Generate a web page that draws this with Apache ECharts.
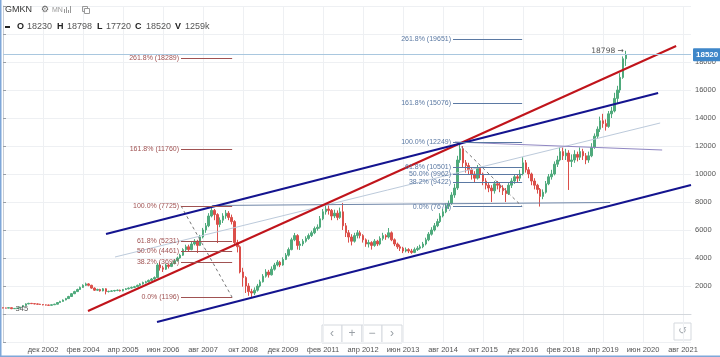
<!DOCTYPE html>
<html><head><meta charset="utf-8">
<script src="https://cdn.jsdelivr.net/npm/echarts@6/dist/echarts.min.js"></script>
<style>html,body{margin:0;padding:0;background:#fff}#c{width:720px;height:357px}</style>
</head><body><div id="c"></div>
<script>
// month index 0 = Oct 2001; tick labels every 14 months starting at index 14 (Dec 2002)
const tickLabels = ['дек 2002','фев 2004','апр 2005','июн 2006','авг 2007','окт 2008','дек 2009','фев 2011','апр 2012','июн 2013','авг 2014','окт 2015','дек 2016','фев 2018','апр 2019','июн 2020','авг 2021'];
const priceTicks = [2000,4000,6000,8000,10000,12000,14000,16000,18000];

const open = [440,430,420,450,380,400,420,500,600,720,
760,740,720,700,680,650,640,620,660,700,
820,900,1000,1100,1250,1450,1600,1750,1900,2050,
2150,2050,1850,1700,1750,1650,1800,1600,1620,1650,
1680,1700,1650,1750,1800,1850,1900,1950,2050,2150,
2250,2300,2400,2500,2600,3500,3300,3200,3500,3400,
3600,3800,4000,4200,4600,4800,4600,5000,5200,4900,
5500,6000,6300,7000,7400,7100,6400,6700,7000,7200,
6900,6600,5100,4800,3000,2600,2000,1600,1500,1700,
2000,2300,2700,3000,2800,3200,3500,3700,3500,3900,
4200,4600,5300,5600,4900,5000,5200,5400,5600,5800,
6100,6200,6800,7300,7500,7400,7000,7200,6900,7300,
6300,5800,5500,5200,5600,5800,5600,5300,5000,5100,
4900,5200,5000,5400,5600,5500,5800,5300,5000,4800,
4700,4500,4600,4500,4400,4600,4700,4800,5000,5300,
5700,6000,6300,6600,7000,7300,7700,7900,8500,9000,
11000,11800,10800,10600,10300,10000,9700,10400,10000,9500,
9200,9000,8800,9300,9200,9000,8800,8600,9200,9500,
9800,9700,10000,10800,10300,10000,9500,9200,8900,8400,
8700,9300,9800,10000,10700,11000,11600,11300,11500,10900,
11000,11400,11200,11600,11300,11000,11300,11900,12700,13200,
13800,13600,13400,14300,14500,15400,16000,16900,18230];
const close = [430,420,450,380,400,420,500,600,720,760,
740,720,700,680,650,640,620,660,700,820,
900,1000,1100,1250,1450,1600,1750,1900,2050,2150,
2050,1850,1700,1750,1650,1800,1600,1620,1650,1680,
1700,1650,1750,1800,1850,1900,1950,2050,2150,2250,
2300,2400,2500,2600,3500,3300,3200,3500,3400,3600,
3800,4000,4200,4600,4800,4600,5000,5200,4900,5500,
6000,6300,7000,7400,7100,6400,6700,7000,7200,6900,
6600,5100,4800,3000,2600,2000,1600,1500,1700,2000,
2300,2700,3000,2800,3200,3500,3700,3500,3900,4200,
4600,5300,5600,4900,5000,5200,5400,5600,5800,6100,
6200,6800,7300,7500,7400,7000,7200,6900,7300,6300,
5800,5500,5200,5600,5800,5600,5300,5000,5100,4900,
5200,5000,5400,5600,5500,5800,5300,5000,4800,4700,
4500,4600,4500,4400,4600,4700,4800,5000,5300,5700,
6000,6300,6600,7000,7300,7700,7900,8500,9000,11000,
11800,10800,10600,10300,10000,9700,10400,10000,9500,9200,
9000,8800,9300,9200,9000,8800,8600,9200,9500,9800,
9700,10000,10800,10300,10000,9500,9200,8900,8400,8700,
9300,9800,10000,10700,11000,11600,11300,11500,10900,11000,
11400,11200,11600,11300,11000,11300,11900,12700,13200,13800,
13600,13400,14300,14500,15400,16000,16900,18230,18520];
const low = [410,400,405,345,360,385,410,490,590,700,
710,690,670,650,620,610,590,600,640,690,
800,880,980,1080,1230,1420,1570,1720,1860,2000,
1980,1800,1650,1640,1600,1620,1400,1540,1580,1600,
1630,1610,1620,1710,1760,1810,1850,1920,2010,2100,
2180,2250,2350,2450,2580,3100,3000,3150,3250,3350,
3550,3750,3950,4150,4500,4450,4550,4900,4360,4850,
5400,5800,6200,6900,6700,5070,6200,6500,6800,6700,
6400,5000,4400,2900,1950,1500,1300,1196,1350,1600,
1900,2250,2600,2600,2750,3100,3400,3350,3450,3850,
4100,4550,5200,4600,4570,4850,5100,5300,5500,5700,
5950,6100,6700,7100,7100,6700,6850,6700,6800,6000,
5500,5100,4900,5100,5400,5400,5100,4800,4750,4600,
4800,4850,4900,5250,5300,5400,5200,4850,4650,4500,
4350,4400,4350,4300,4350,4500,4600,4700,4900,5200,
5600,5900,6200,6500,6900,7200,7500,7800,8300,8860,
10800,10500,10100,10000,9600,9400,9600,9700,9200,8900,
8700,8000,8600,8900,8700,8500,8000,8500,9000,9300,
9400,9500,9900,10100,9700,9200,8900,8600,7674,8200,
8600,9200,9600,9900,10500,10900,11000,11000,8860,10500,
10800,10900,11000,11000,10700,10800,11200,11800,12500,13000,
13300,13100,13300,14000,14400,15000,15800,16800,17720];
const high = [460,450,470,460,420,440,520,630,760,800,
790,770,750,730,700,680,670,690,730,850,
940,1040,1150,1300,1500,1660,1810,1960,2120,2240,
2200,2090,1900,1810,1800,1850,1840,1660,1700,1720,
1750,1740,1790,1850,1900,1960,2010,2100,2200,2310,
2370,2460,2570,2680,3640,3700,3450,3600,3600,3700,
3900,4100,4300,4700,4950,4950,5150,5350,5300,5650,
6150,6500,7200,7725,7500,7200,6900,7200,7430,7350,
7100,6700,5300,4900,3300,2700,2200,1800,1900,2150,
2450,2850,3200,3150,3400,3650,3850,3800,4050,4350,
4750,5450,5790,5700,5200,5350,5550,5750,5950,6250,
6400,7000,7500,7900,7750,7500,7450,7400,7600,7930,
6500,6000,5700,5800,6000,5950,5700,5400,5300,5200,
5350,5300,5550,5800,5700,6140,5900,5400,5100,4950,
4800,4750,4700,4650,4750,4850,4950,5150,5450,5850,
6200,6500,6800,7200,7500,7900,8100,8700,9300,11300,
12249,12000,11000,10800,10500,10200,10640,10500,10100,9700,
9400,9200,9500,9500,9400,9200,9000,9350,9700,10000,
10000,10300,11200,11000,10500,10100,9700,9300,9000,8900,
9500,10000,10300,10900,11300,11900,11900,11800,11700,11400,
11700,11600,11900,11800,11500,11600,12200,12900,13400,14100,
14300,13900,14500,14800,15800,16300,17200,18400,18798];

// drawings, in (month index, price)
const redTrend = [[29.75,214],[235.6,19143]];
const blueTop = [[36.05,5714],[229.3,15786]];
const blueBottom = [[53.9,-571],[240.8,9214]];
const thinTrend = [[39.2,4071],[230,13643]];
const hLine2007 = [[73.2,7750],[212.5,7964]];
const hLine2015 = [[158.2,12286],[230.7,11714]];

const fibNames = ['261.8%','161.8%','100.0%','61.8%','50.0%','38.2%','0.0%'];
const fib1Levels = [18289,11760,7725,5231,4461,3691,1196];
const fib1Span = [62.3,80.2];
const fib1Diag = [[62.3,7725],[80.2,1196]];
const fib2Levels = [19651,15076,12249,10501,9962,9422,7674];
const fib2Span = [157.5,181.7];
const fib2Diag = [[158.9,12249],[181.7,7674]];

const lastIdx = 218, lastHigh = 18798, lastClose = 18520, minIdx = 3, minLow = 345;

const n = Math.min(open.length, close.length, low.length, high.length);
const candles = [];
for (let i = 0; i < n; i++) candles.push([i, open[i], close[i], low[i], high[i]]);

const FONT = 'Liberation Sans, Arial, sans-serif';
const UP = '#4faa7c', DOWN = '#db4f4a';

function trend(data, color, width) {
  return {type:'line', data, symbol:'none', silent:true, clip:true, animation:false,
    lineStyle:{color, width}, z:4};
}
function fib(levels, span, diag, color) {
  return {type:'line', data:diag, symbol:'none', silent:true, animation:false, z:4,
    lineStyle:{color:'#777', width:1, type:[3,3]},
    markLine:{symbol:['none','none'], silent:true, animation:false,
      lineStyle:{color, width:1, type:'solid'},
      label:{show:true, position:'start', distance:2, color, fontSize:7, fontFamily:FONT, formatter:'{b}'},
      data: levels.map((v,k)=>[{coord:[span[0],v], name: fibNames[k]+' ('+v+')'},{coord:[span[1],v]}])
    }};
}

const chart = echarts.init(document.getElementById('c'), null, {renderer:'canvas'});
const option = {
  animation:false,
  backgroundColor:'#fff',
  grid:{left:3, right:29, top:6, bottom:15},
  xAxis:{type:'value', min:0, max:240.8, interval:14,
    axisLine:{show:true, lineStyle:{color:'#d3d7dc'}},
    axisTick:{show:false},
    axisLabel:{color:'#555', fontSize:7.5, fontFamily:FONT, margin:4, showMinLabel:false, showMaxLabel:false,
      formatter:v=>{ const k = v/14 - 1; return (Number.isInteger(k) && k>=0 && k<tickLabels.length) ? tickLabels[k] : ''; }},
    splitLine:{show:true, showMinLine:false, showMaxLine:false, lineStyle:{color:'#eef0f3'}}
  },
  yAxis:{type:'value', position:'right', min:-2000, max:22000, interval:2000, scale:false,
    axisLine:{show:true, lineStyle:{color:'#c9ced6'}},
    axisTick:{show:true, length:3, lineStyle:{color:'#9aa0a8'}},
    axisLabel:{color:'#555', fontSize:7.5, fontFamily:FONT, margin:4,
      formatter:v=> priceTicks.indexOf(v) >= 0 ? String(v) : ''},
    splitLine:{show:true, lineStyle:{color:'#eef0f3'}}
  },
  series:[
    {type:'candlestick', data:candles, encode:{x:0, y:[1,2,3,4]}, barWidth:2, z:3,
      itemStyle:{color:UP, color0:DOWN, borderColor:UP, borderColor0:DOWN, borderWidth:1},
      markLine:{symbol:['none','none'], silent:true, animation:false,
        lineStyle:{color:'#a9c7df', width:1, type:'solid'},
        label:{show:true, position:'end', distance:2, formatter:String(lastClose), color:'#fff',
          backgroundColor:'#3f87c9', padding:[3,3,2,3], fontSize:8, fontWeight:'bold', fontFamily:FONT, borderRadius:1},
        data:[{yAxis:lastClose}]},
      markPoint:{symbol:'circle', symbolSize:0, silent:true, animation:false,
        data:[
          {coord:[lastIdx,lastHigh], label:{show:true, position:'left', distance:2, formatter:lastHigh+' →', color:'#555', fontSize:7.5, fontFamily:'DejaVu Sans, '+FONT}},
          {coord:[minIdx,minLow], label:{show:true, position:'right', distance:4, formatter:String(minLow), color:'#555', fontSize:7.5, fontFamily:FONT}}
        ]}
    },
    trend(thinTrend, '#bccadb', 1),
    trend(hLine2007, '#6f86a8', 1),
    trend(hLine2015, '#8f86c2', 1),
    fib(fib1Levels, fib1Span, fib1Diag, '#a05252'),
    fib(fib2Levels, fib2Span, fib2Diag, '#5b79a3'),
    trend(redTrend, '#c0141b', 2),
    trend(blueTop, '#14148f', 2),
    trend(blueBottom, '#14148f', 2)
  ],
  graphic:[
    {type:'rect', shape:{x:0,y:0,width:1.5,height:357}, style:{fill:'#7fa7d9'}, silent:true, z:100},
    {type:'rect', shape:{x:0,y:355.5,width:720,height:1.5}, style:{fill:'#7fa7d9'}, silent:true, z:100},
    {type:'text', x:5, y:10, style:{text:'GMKN', font:'9px '+FONT, fill:'#333', verticalAlign:'middle', textVerticalAlign:'middle'}, z:100},
    {type:'text', x:41, y:10, style:{text:'⚙', font:'9px DejaVu Sans', fill:'#666', verticalAlign:'middle', textVerticalAlign:'middle'}, z:100},
    {type:'text', x:52, y:10.5, style:{text:'MN', font:'7px '+FONT, fill:'#999', verticalAlign:'middle', textVerticalAlign:'middle'}, z:100},
    {type:'rect', shape:{x:64,y:9,width:1,height:4}, style:{fill:'#999'}, z:100},
    {type:'rect', shape:{x:66,y:7,width:1,height:6}, style:{fill:'#999'}, z:100},
    {type:'rect', shape:{x:68,y:10,width:1,height:3}, style:{fill:'#999'}, z:100},
    {type:'rect', shape:{x:70,y:6,width:1,height:7}, style:{fill:'#999'}, z:100},
    {type:'rect', shape:{x:82.5,y:6.5,width:5,height:5}, style:{fill:'none', stroke:'#999', lineWidth:1}, z:100},
    {type:'rect', shape:{x:84.5,y:8.5,width:5,height:5}, style:{fill:'#fff', stroke:'#999', lineWidth:1}, z:100},
    {type:'rect', shape:{x:5,y:26,width:5,height:2}, style:{fill:'#222'}, z:100},
    ...[['O',17,true],['18230',27,false],['H',57,true],['18798',67,false],['L',97,true],['17720',106,false],['C',135,true],['18520',146,false],['V',175,true],['1259k',185,false]]
      .map(([t,x,b])=>({type:'text', x, y:27, z:100, style:{text:t, font:(b?'bold ':'')+'9px '+FONT, fill:b?'#222':'#555', verticalAlign:'middle', textVerticalAlign:'middle'}})),
    // navigation buttons
    ...[['‹',0],['+',1],['−',2],['›',3]].map(([t,k])=>({type:'group', x:322+k*20, y:325, z:100, children:[
      {type:'rect', shape:{x:0,y:0,width:20,height:18}, style:{fill:'#fff', stroke:'#d5d9de', lineWidth:1}},
      {type:'text', x:10, y:9, style:{text:t, font:'12px '+FONT, fill:'#9aa0a6', align:'center', verticalAlign:'middle', textAlign:'center', textVerticalAlign:'middle'}}
    ]})),
    {type:'group', x:674, y:323, z:100, children:[
      {type:'rect', shape:{x:0,y:0,width:17,height:17}, style:{fill:'#fff', stroke:'#d5d9de', lineWidth:1}},
      {type:'text', x:8.5, y:8.5, style:{text:'↺', font:'10px DejaVu Sans', fill:'#9aa0a6', align:'center', verticalAlign:'middle', textAlign:'center', textVerticalAlign:'middle'}}
    ]}
  ]
};
chart.setOption(option);
</script>
</body></html>
